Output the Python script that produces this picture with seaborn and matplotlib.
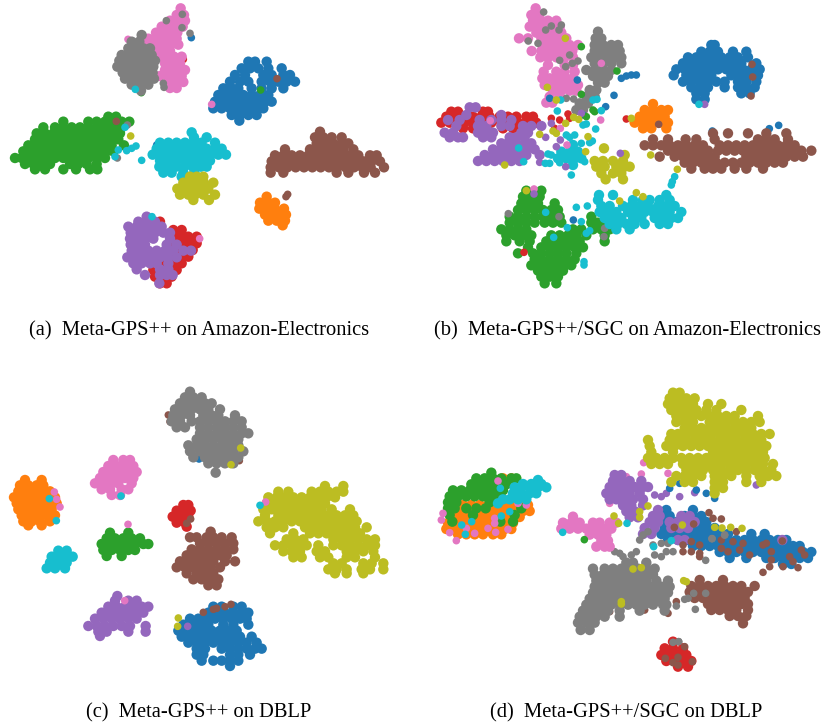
import pandas as pd
import matplotlib.pyplot as plt
import seaborn as sns

sns.set_theme(style="white")

# positions, rows are {y: [x, x, ...]}, 3x panel pixels
a_pink = {25:[542],45:[530,552],62:[510,532,555],80:[485,505,528,548],98:[468,490,512,532],116:[445,465,487,510,530],
          134:[445,468,490,512,535],152:[465,490,510],170:[480,500,522,545],190:[495,518,540],210:[495,518,540,555],
          228:[480,505,525,545],246:[505,527,550],264:[510,530]}
a_gray = {105:[425],125:[395,418],145:[385,408,430,450],165:[365,388,410,432,455],182:[358,378,400,422,445,465],
          200:[352,372,392,415,437,460],218:[368,390,412,435,458],236:[375,398,420,442,462],254:[395,420,445],272:[423]}
a_gray_out = [(547,43),(499,62),(546,83),(570,100),(490,250),(492,262)]
a_blue = {185:[745,765,800],205:[725,750,775,805,845],225:[705,735,790,815,850,870],245:[690,720,745,785,810,835,860,885],
          265:[670,695,715,755,785,815,850],285:[655,680,705,730,755,780,805],305:[645,670,695,720,745,770,795,815],
          325:[640,665,690,715,740,765,790],345:[695,720,745,770],362:[718]}
a_green = {350:[325,348],365:[190,265,290,315,340,365,388],382:[130,165,190,215,240,265,290,315,340,365],
           400:[110,135,160,185,210,235,260,285,310,335,360],418:[105,130,155,180,205,230,255,280,305,330,355],
           436:[85,110,135,160,185,210,235,260,285,310,335,372],454:[70,95,120,145,170,195,220,245,270,295,320,340],
           474:[45,65,90,115,140,165,190,215,240,265,290,315],492:[75,100,125,150,210,235,260,290],508:[105,135,190,228,270,292]}
a_cyan = {397:[575],412:[582,620],428:[480,505,530,555,580,605,645],446:[470,495,520,545,570,595,620,645,665],
          464:[458,483,508,533,558,583,608,633,655,678],482:[480,505,530,555,580,605,630],500:[478,503,528,553,578,603,620],
          518:[490,515,550,583],530:[545]}
a_cyan_out = [(406,268),(375,382),(355,450),(345,470),(380,452),(395,445),(408,438),(425,481),(456,650)]
a_olive = {530:[570,590,610],548:[550,570,590,612,640],566:[532,555,578,600,625],584:[540,565,585,610,645],600:[580,627]}
a_brown = {395:[960],412:[945,970,995,1025],430:[950,975,1000,1025,1045],448:[855,930,955,980,1005,1030,1060],
           466:[825,850,875,900,925,950,975,1000,1025,1050,1075,1110,1130],
           484:[815,840,865,890,915,940,965,990,1015,1040,1065,1090,1115,1140],
           502:[812,837,862,887,912,937,962,987,1012,1037,1062,1087,1112,1152],518:[812,850,1010,1045,1092,1125]}
a_orange = {590:[800],608:[780,805,825],626:[778,800,825,852],644:[795,818,842,858],662:[805,830,855],676:[848]}
a_red = {665:[480],690:[520,545],710:[515,540,565,590],730:[520,545,570,590],750:[530,555,578],770:[520,545,565],
         790:[455,480,525,545],810:[460,485,510,530],830:[465,490,515],850:[480,500]}
a_purple = {650:[440],665:[415,440,465],680:[385,410,435,460,485],698:[392,415,440,465,490,510],716:[390,412,437,460,510],
            734:[392,412,435,500,530],752:[395,418,445,470,495,520,550,573],772:[382,405,430,455,480,505,530],
            790:[400,425,450,470,505],808:[410,480,505],825:[435,480,500,518],850:[478]}

b_pink = {25:[368],45:[355,378],62:[360,385,405,430],80:[350,375,395,420,440],98:[370,395,420,445],115:[318,345,385,410,435,460],
          135:[395,420,445,470,495],153:[356,385,410,435,460,478],172:[382,405,430,455,480],195:[405,455,480],215:[392,430,455,485],
          235:[388,410,435,460,480],255:[395,420,445,470,495],272:[420,445,470,490],290:[410,440],308:[400,418]}
b_gray_out = [(392,36),(398,90),(415,78),(438,90),(445,75),(346,123),(375,130),(440,181),(470,165),(458,200),(478,190),(495,183),
              (460,295),(482,297),(286,641),(438,650),(575,685),(573,710)]
b_gray = {95:[555],115:[548,565],135:[545,570,595,615],153:[545,570,595,620],172:[535,560,585,610,625],190:[545,570,595,625],
          210:[520,545,570,595],228:[540,565,585],248:[555,575],270:[530,550],290:[520,545],310:[500,525],330:[490,510]}
b_blue_out = [(625,235),(640,228),(655,225),(670,225),(493,240),(603,286),(410,295),(578,320),(510,345),(898,393),(1069,386),(1097,376),(481,660)]
b_red_out = [(415,355),(440,360),(465,342),(425,385),(470,355),(640,357),(333,757)]
b_green_out = [(505,140),(612,213),(540,330),(520,350),(545,335),(505,283)]
b_cyan_out = [(433,333),(443,300),(540,300),(552,298),(565,332),(520,372),(510,375),(548,387),(460,405),(485,405),(470,412),
              (530,428),(538,423),(505,430),(405,462),(415,465),(397,490),(410,490),(475,525),(515,485),(440,488),(317,444),(332,485),
              (785,530),(778,545),(775,555),(858,313),(398,637),(422,712),(463,683),(520,700),(530,692),(513,785),(513,795),(490,622),(523,618),(505,665)]
b_olive_out = [(457,115),(403,262),(430,300),(482,352),(497,358),(458,370),(430,400),(420,393),(525,410),(518,455),(275,495),(380,403),
               (655,355),(713,465),(793,508),(340,572),(620,603),(670,578),(690,590)]
b_purple_out = [(415,370),(442,420),(398,412),(505,340),(458,500),(380,487),(430,440),(622,460),(875,313),(363,582)]
b_pink_out = [(563,360),(442,385),(462,435),(232,362),(565,190),(363,567)]
b_brown_out = [(737,373),(1017,193),(1019,231),(1014,288)]
b_cyan_mid = {435:[480],455:[445,470,495],475:[435,460,485,505],495:[480]}
b_red = {335:[115,135,210,225],350:[100,130,155,180,205,230,260,285,310,340,360],368:[85,110,155,180,210,235,265,290,315,340,370],
         385:[150,180,210,270,300,330]}
b_purple = {322:[170,188],345:[160,265],360:[105,140,200,235,265,295],378:[130,195,220,265,290,330,355,385],398:[95,120,195,215,240,325,345],
            412:[110,135,150,210,235,290,310,335],430:[265,285,310,335,355],448:[240,265,290,315,340,365],
            465:[215,240,265,290,315,340,380],483:[195,220,245,270,295,320]}
b_olive = {445:[573],465:[635],483:[545,570,600,630],500:[550,575,610,635,650],520:[565,600,625],538:[578,630]}
b_orange = {312:[720],330:[695,720,745,765],350:[680,705,730,755],368:[665,690,715,740,765],385:[690,715,760]}
b_brown = {400:[900,945,1005,1060,1120],418:[720,765,818,850,905,1035,1060,1085,1125],
           436:[695,720,745,770,795,820,845,870,920,945,970,995,1020,1045,1070,1095,1120,1145],
           452:[765,790,815,840,865,885,915,940,965,990,1015,1040,1065,1090,1115,1140,1165,1195],
           470:[740,785,810,835,860,885,905,1000,1020,1045,1070,1095,1120,1145,1170],
           488:[815,840,865,885,910,935,960,985,1010,1035,1060,1085,1110],506:[835,875,900,925,965,1000,1050]}
b_blue = {135:[895,905],155:[865,890,915,960,1000],172:[825,850,875,900,925,950,975,1005],190:[810,835,860,885,910,935,960,985,1030],
          208:[790,815,840,865,890,915,940,965,990,1015,1040],226:[782,820,845,870,895,955,980,1005,1035],
          245:[810,835,860,885,910,935,975,1000,1030],262:[835,860,885,935,975,1000,1025],280:[850,875,985,1010],298:[850,875]}
b_green = {590:[330,355,380],572:[340,385],610:[325,350,375,425],630:[315,340,365,390,415,435],650:[290,315,340,365,390,415,440,535],
           668:[290,315,340,365,395,420,445,535,555,575],688:[265,290,315,340,480,505,540,565,590],
           706:[280,305,330,355,415,440,465,490,520,575],724:[280,320,350,400,425,450,475,500,575],742:[345,385,410,435,460,485,510],
           760:[315,360,385,410,435,460,490],778:[365,385,410,435,460,485],796:[355,380,405,430,455,475],812:[375,400,425,450],
           830:[385,410,435],850:[395,430]}
b_cyan = {585:[558,600,760],600:[555,660,690,710,740,770],618:[565,590,630,655,680,705,735,760,785],
          636:[560,585,610,645,670,695,720,745,770,805],654:[575,600,625,660,685,725,750,775,795],672:[590,615,640,665,695,740,765],688:[610,650]}

c_gray = {35:[570],52:[555,580,605],70:[540,565,590,615,635],88:[525,550,575,600,625,660],106:[520,545,570,610,635,655,705],
          124:[515,540,575,600,625,650,675,700,725],142:[530,555,600,625,650,675,700,725],160:[600,625,650,675,700,725,745],
          178:[590,615,640,665,690,715],196:[565,590,615,640,665,690,715],214:[570,600,625,650,675,700,730],
          232:[580,615,640,665,690,715],250:[625,650,675,700],278:[647]}
c_pink = {240:[340,370,390],258:[325,350,375,400],276:[310,335,360,385,410],294:[300,325,350,375,400],310:[285,310,335,355,395],
          328:[305,330,365,385],345:[335,360]}
c_orange = {300:[75,125],316:[60,85,110,130],334:[55,80,105,130,150],352:[42,65,90,115,140,165],370:[50,75,100,125,150,170],
            388:[55,80,105,130,155],406:[65,90,115,140,165],424:[70,95,120,150],436:[85,125]}
c_green = {458:[330,385],475:[320,345,370,395,420],492:[305,330,355,380,405,430,445],510:[310,335,360,385,405],528:[320,365]}
c_cyan = {512:[175,200],530:[155,180,205,218],548:[150,175,200],565:[140,165,195]}
c_red = {375:[550,565],392:[530,550,572],410:[518,540,565],428:[530,555],440:[560]}
c_brown = {455:[632],472:[570,590,620,640,665,695],490:[600,625,650,675,700],508:[575,600,625,650,675,700],
           526:[560,585,610,635,660,680],544:[540,565,590,615,640,675,705],562:[530,555,580,605,630,660],580:[560,590,615,640],
           598:[580,605,630,655],616:[625,650]}
c_olive = {318:[975,1030],335:[835,865,935,960,985,1010,1030],352:[805,830,855,880,905,930,955,980,1005],370:[800,825,850,875,900,925,950,975],
           388:[790,815,840,865,890,915,940,965,995,1050],406:[795,835,860,885,910,935,960,985,1010,1035,1060],
           424:[775,800,825,850,875,900,925,945,970,995,1020,1045,1070],442:[800,825,850,915,940,965,990,1015,1040,1065,1100],
           460:[810,880,930,955,980,1005,1030,1055,1080],478:[860,885,910,1000,1025,1050,1075,1100,1125],
           496:[825,850,875,900,920,955,1000,1025,1050,1075,1100,1125],514:[850,875,900,950,975,1040,1065,1090,1120],
           532:[880,905,960,985,1040,1065,1125],550:[1000,1025,1090,1115,1150],568:[985,1010,1040,1085,1110,1150],580:[1005,1040,1090]}
c_purple = {648:[352],662:[345,385,410],680:[325,350,375,400,425,445],698:[305,330,355,380,405,430],716:[285,310,335,360,385,410],
            738:[265,290,315,340,365,390,437],755:[295,320,385,437],768:[300]}
c_blue = {680:[640,665,700,725],698:[625,650,675,700,725,745],716:[570,595,620,645,670,695,720,740],734:[550,575,600,625,670,700,745],
          752:[535,560,585,610,635,660,685,710],770:[545,570,595,620,645,670,695,720,755],788:[565,590,615,640,665,690,715,740,770],
          806:[590,615,665,690,715,740,765,785],824:[590,610,690,715,750],842:[605,640,665,690,715],858:[690]}
c_brown_out = [(505,105),(510,125),(718,242),(572,417),(560,430),(610,697),(640,688),(650,685),(675,680),(693,673)]
c_olive_out = [(722,204),(693,254),(535,714),(533,739)]
c_pink_out = [(163,336),(170,358),(180,381),(384,433),(797,366),(374,662)]
c_cyan_out = [(363,348),(148,356),(169,422),(780,376)]

d_orange = {295:[270,295],375:[150,175,200,225,250,275,300,325,345],393:[125,150,175,200,225,250,275,300,330,350],
            411:[115,140,165,190,215,240,265,290,320],429:[105,130,155,180,205,230,255,280,300],
            447:[100,125,150,175,200,225,250,275,295],463:[135,160,185,210,240,265]}
d_green = {278:[235],295:[190,215,240,265,295,310],313:[175,200,225,250,280],331:[120,145,170,195,220,245,270],
           349:[110,135,160,185,210,235,255],367:[105,130,230],385:[105,125,160,190,218,325],405:[110,180,305],425:[118,262,300]}
d_cyan = {300:[375],312:[330,355,385],322:[305,325,350,375,400],340:[300,325,350,370],358:[270,290,315,340],370:[255]}
d_cyan_out = [(262,325),(265,408),(290,395),(146,435),(176,425),(157,463),(449,457),(722,500),(775,482),(642,430)]
d_pink_out = [(90,400),(85,420),(110,458),(130,482),(255,303),(245,415),(225,445),(248,457),(185,460),(285,448),(245,430),(315,370),
              (340,375),(160,445),(692,248),(685,282),(640,290),(635,340),(625,360),(640,380),(580,343),(590,370),(765,280)]
d_olive = {38:[780,800],55:[770,795,820,845],72:[765,790,815,840,885,925],90:[775,800,825,850,880,910,985],
           108:[790,815,840,865,890,915,940,965,1035],126:[790,815,840,890,915,940,965,990,1015,1040],
           144:[815,840,865,890,915,940,965,990,1015],162:[775,795,820,845,870,895,920,945,970,995,1020,1045,1070],
           180:[705,770,795,820,845,870,895,920,945,970,995,1020,1045],198:[710,760,785,810,835,860,885,910,935,960,985,1010,1035,1060],
           216:[715,780,900,925,950,975,1000,1025,1050],234:[705,730,755,780,805,830,855,880,905,930,955,980,1005,1030,1055],
           252:[715,740,765,810,835,860,885,900,925,950,975,1000,1025,1050,1080],270:[820,845,870,900,925,950,975,1000,1025,1050,1075],
           288:[790,815,840,865,905,930,955,1000,1040,1065,1090],306:[775,815,840,905,930,1000,1045],324:[905,930],340:[905]}
d_purple = {285:[605,625],303:[600,625,650,685],321:[590,615,640,665,690,705],340:[580,600,625,650,680],358:[590,610,635,660,690],
            376:[630,655,690],394:[640,665],412:[650,675]}
d_purple_out = [(725,345),(745,350),(760,340),(800,350),(845,338),(1030,315)]
d_blue_out = [(770,325),(800,310),(880,340),(905,355),(850,330)]
d_blue = {390:[760,840],408:[745,770,815,840,865],426:[765,790,815,840,865,880],444:[755,780,805,830,855,880,905],
          462:[745,770,795,820,845,870,895,920,945,1015,1055],480:[765,795,820,845,870,895,920,945,970,995,1020,1045,1070,1095,1120],
          498:[840,865,890,915,940,965,990,1015,1040,1065,1090,1115,1140,1160],516:[920,945,970,995,1020,1045,1070,1095,1120,1145,1170,1195],
          534:[950,1000,1060,1085,1110,1135,1160,1185],552:[1110,1135]}
d_purple_band = {390:[735],408:[720,740,805,830],426:[710,735,770,795,820,845],444:[695,725,775,800,825],462:[690,715],480:[795,815,1108]}
d_brown_out = [(888,398),(900,415),(925,417),(784,442),(842,432),(970,455),(925,480),(960,485),(990,490),(1060,490),(1108,483),(835,485),
               (810,495),(810,515),(835,515),(860,495),(860,520),(860,530),(925,505),(945,515),(980,510),(1010,525),(1050,495),(1075,515),
               (1075,540),(1050,577),(1070,560),(1110,560),(1130,530),(1155,563),(1165,510),(1175,525),(1140,545),(790,665),(765,700),(695,690),(590,695)]
d_olive_out = [(808,435),(905,442),(927,444),(953,442),(987,445),(603,408),(617,430),(680,395),(680,412),(705,378)]
d_pink = {410:[480],428:[450,475,500,540,560,590,610],446:[445,470,495,520,545,570,595],464:[530,555,580],482:[565,585],500:[550,575,590]}
d_gray_out = [(897,476),(935,465),(580,485),(605,515),(620,520),(630,530),(670,515),(655,525),(690,465),(680,480),(705,455),(720,495),
              (725,525),(745,530),(760,515),(780,515),(745,490),(765,490),(878,541)]
d_gray = {548:[640,660,700],566:[540,575,600,625,650,675,700,725],584:[545,570,595,620,645,670,695,720],
          602:[550,575,600,625,650,675,700,730,765],620:[545,570,595,620,645,670,695,720,745,770],
          638:[540,565,590,615,640,665,690,715,740,765],656:[530,555,580,605,630,655,680,705,730,755],
          674:[520,545,570,595,620,645,670,695,720,750,760],692:[510,535,560,585,620,680,755],710:[500,525,550,575,620],
          728:[495,520,545],750:[503,530]}
d_gray_top = [(790,678),(815,658),(825,655),(847,688),(842,640),(878,640),(780,787),(797,785)]
d_olive_top = [(660,567),(685,563),(625,665),(625,672),(812,602),(820,605)]
d_brown = {600:[860,930],618:[835,860,885,910,935,960,985,1025],636:[830,855,880,905,930,955,980,1005],654:[845,870,895,920,945,970,995],
           672:[885,910,935,960,985,1005],690:[895,920,945,970,1005],708:[950,975,1000],730:[990]}
d_red = {785:[780],805:[755,780,810],825:[745,770,795,820],843:[760,785,810,835],860:[795,825]}
d_brown_top = [(757,835),(795,832),(780,848),(795,855),(838,845),(815,800)]

# classes in drawing order for each panel
panels = {
    "a": [("blue",[(574,113)]),("green",[(424,278)]),("red",[(550,178)]),("pink",[(384,118)]),("pink",a_pink),("gray",a_gray),("gray",a_gray_out),
          ("blue",a_blue),("brown",[(831,236)]),("green",[(782,270)]),("pink",[(635,313)]),
          ("green",a_green),("green",[(373,438)]),("brown",[(349,364)]),("gray",[(382,375),(352,474)]),("olive",[(392,408)]),
          ("blue",[(470,435)]),("cyan",a_cyan),("olive",a_olive),("brown",a_brown),("brown",[(863,583),(858,590)]),("orange",a_orange),
          ("red",a_red),("purple",a_purple),("pink",[(599,716)]),("cyan",a_cyan_out)],
    "b": [("pink",b_pink),("gray",b_gray),("blue",b_blue_out),("red",b_red),("purple",b_purple),("olive",b_olive),("orange",b_orange),
          ("brown",b_brown),("blue",b_blue),("green",b_green),("green",b_green_out),("red",b_red_out),("gray",b_gray_out),
          ("cyan",b_cyan),("cyan",b_cyan_mid),("pink",b_pink_out),("purple",b_purple_out),("brown",b_brown_out),("cyan",b_cyan_out),("olive",b_olive_out)],
    "c": [("blue",[(597,237)]),("brown",c_brown_out[:3]),("gray",c_gray),("pink",c_pink),("orange",c_orange),("green",c_green),("cyan",c_cyan),
          ("red",c_red),("brown",c_brown),("olive",c_olive),("purple",c_purple),("blue",c_blue),("brown",c_brown_out[3:]),
          ("purple",[(563,739)]),("olive",c_olive_out),("pink",c_pink_out),("cyan",c_cyan_out)],
    "d": [("orange",d_orange),("green",d_green),("pink",d_pink_out),("cyan",d_cyan),("cyan",d_cyan_out[:6]),("purple",d_purple),("purple",d_purple_out),
          ("blue",d_blue_out),("olive",d_olive),("blue",d_blue),("purple",d_purple_band),("brown",d_brown_out),("gray",[(897,476),(935,465)]),
          ("brown",d_brown),("gray",d_gray),("gray",d_gray_out),("gray",d_gray_top),("pink",d_pink),("green",[(514,479)]),
          ("red",d_red),("brown",d_brown_top),("gray",d_gray_top[6:]),("olive",d_olive_out),("olive",d_olive_top),("cyan",d_cyan_out[6:])],
}
boxes = {"a": (0, 0, 413, 345), "b": (413, 0, 413, 345), "c": (0, 380, 413, 347), "d": (413, 380, 413, 347)}
captions = {"a": ("(a)  Meta-GPS++ on Amazon-Electronics", 199, 331),
            "b": ("(b)  Meta-GPS++/SGC on Amazon-Electronics", 627, 331),
            "c": ("(c)  Meta-GPS++ on DBLP", 199, 713),
            "d": ("(d)  Meta-GPS++/SGC on DBLP", 626, 713)}

names = ["blue", "orange", "green", "red", "purple", "brown", "pink", "gray", "olive", "cyan"]
palette = dict(zip(names, sns.color_palette("tab10")))

W, H = 826, 727
fig = plt.figure(figsize=(W / 100, H / 100), dpi=100)


def layer_rows(color, pts):
    # dict layers are the dense cluster bodies, lists are single stray dots
    if isinstance(pts, dict):
        return [(x, y, color, "body") for y, xs in pts.items() for x in xs]
    return [(x, y, color, "dot") for x, y in pts]


for key, layers in panels.items():
    x0, y0, w, h = boxes[key]
    ax = fig.add_axes([x0 / W, 1 - (y0 + h) / H, w / W, h / H])
    rows = [r for c, pts in layers for r in layer_rows(c, pts)]
    df = pd.DataFrame(rows, columns=["x", "y", "cls", "kind"])
    sns.scatterplot(data=df, x="x", y="y", hue="cls", palette=palette, size="kind",
                    sizes={"body": 56, "dot": 30}, linewidth=0, legend=False, ax=ax)
    ax.set_xlim(0, w * 3)
    ax.set_ylim(h * 3, 0)
    ax.axis("off")
    text, cx, cy = captions[key]
    fig.text(cx / W, 1 - cy / H, text, ha="center", va="center", family="Liberation Serif", fontsize=14.8, color="black")

fig.savefig("out.png", dpi=100)
